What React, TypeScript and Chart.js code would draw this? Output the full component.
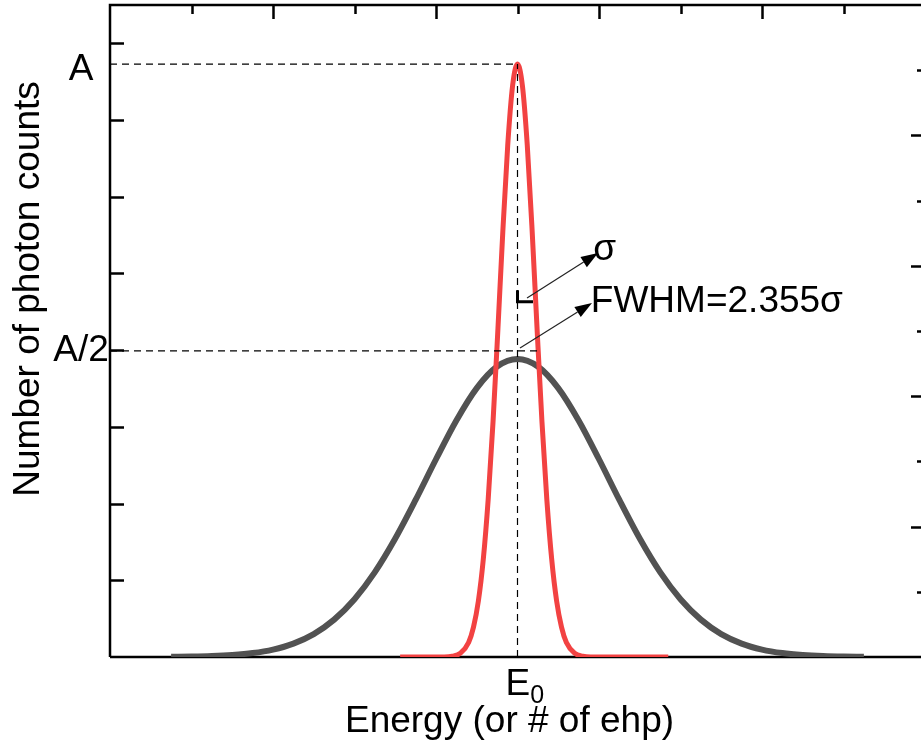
import React, { useEffect, useRef } from "react";
import { Chart, registerables } from "chart.js";

Chart.register(...registerables);

// ---- data (x in energy units, E0 = 5; y in count units) ----
const grayX = [0.75, 1.0, 1.25, 1.5, 1.75, 2.0, 2.25, 2.5, 2.75, 3.0, 3.25, 3.5, 3.75, 4.0, 4.25, 4.5, 4.75, 5.0, 5.25, 5.5, 5.75, 6.0, 6.25, 6.5, 6.75, 7.0, 7.25, 7.5, 7.75, 8.0, 8.25, 8.5, 8.75, 9.0, 9.25];
const grayY = [0.002, 0.005, 0.012, 0.026, 0.051, 0.097, 0.175, 0.299, 0.487, 0.753, 1.106, 1.544, 2.047, 2.578, 3.084, 3.506, 3.787, 3.885, 3.787, 3.506, 3.084, 2.578, 2.047, 1.544, 1.106, 0.753, 0.487, 0.299, 0.175, 0.097, 0.051, 0.026, 0.012, 0.005, 0.002];

const redX = [3.56, 4.1, 4.2, 4.3, 4.4, 4.46, 4.52, 4.58, 4.64, 4.7, 4.76, 4.82, 4.88, 4.94, 5.0, 5.06, 5.12, 5.18, 5.24, 5.3, 5.36, 5.42, 5.48, 5.54, 5.6, 5.7, 5.8, 5.9, 6.85];
const redY = [0, 0, 0.01, 0.05, 0.19, 0.39, 0.73, 1.27, 2.05, 3.07, 4.28, 5.55, 6.67, 7.45, 7.73, 7.45, 6.67, 5.55, 4.28, 3.07, 2.05, 1.27, 0.73, 0.39, 0.19, 0.05, 0.01, 0, 0];

const E0 = 5;
const peakA = 7.73;
const halfA = 3.99;
const halfLineEnd = 5.26;

const leftTicks = [1, 2, 3, 4, 5, 6, 7, 8];
const topMajorTicks = [2, 4, 6, 8];
const topMinorTicks = [1, 3, 5, 7, 9];
const rightMajorTicks = [1, 2, 3, 4];
const rightMinorTicks = [0.5, 1.5, 2.5, 3.5, 4.5];

const yTickLabels = ["A", "A/2"];
const yTickLabelValues = [7.66, 3.99];
const xTitle = "Energy (or # of ehp)";
const yTitle = "Number of photon counts";
const sigmaText = "σ";
const fwhmText = "FWHM=2.355σ";

// annotation anchors (data units)
const sigmaMarkY = 4.63;
const sigmaMarkX2 = 5.19;
const sigmaArrow = [5.117, 4.681, 5.988, 5.267];
const fwhmArrow = [5.031, 4.029, 5.914, 4.615];
const sigmaLabelPos = [5.93, 5.18];
const fwhmLabelPos = [5.90, 4.5];

const FONT = '"Liberation Sans", Arial, sans-serif';

const pts = (xs: number[], ys: number[]) => xs.map((x, i) => ({ x, y: ys[i] }));

const decorPlugin = {
  id: "decor",
  beforeDatasetsDraw(chart: any) {
    const { ctx, chartArea: a, scales } = chart;
    const xs = scales.x, ys = scales.y, y2 = scales.y2;
    ctx.save();
    ctx.strokeStyle = "#000";
    ctx.lineWidth = 2.5;
    ctx.lineCap = "butt";
    ctx.beginPath();
    ctx.moveTo(a.left, a.bottom);
    ctx.lineTo(a.left, a.top);
    ctx.lineTo(a.right, a.top);
    ctx.lineTo(a.right, a.bottom);
    ctx.lineTo(a.left, a.bottom);
    ctx.stroke();
    ctx.lineWidth = 2.5;
    ctx.beginPath();
    for (const v of leftTicks) {
      const y = Math.round(ys.getPixelForValue(v)) + 0.5;
      ctx.moveTo(a.left, y);
      ctx.lineTo(a.left + 14, y);
    }
    for (const v of topMajorTicks) {
      const x = Math.round(xs.getPixelForValue(v)) + 0.5;
      ctx.moveTo(x, a.top);
      ctx.lineTo(x, a.top + 14);
    }
    for (const v of topMinorTicks) {
      const x = Math.round(xs.getPixelForValue(v)) + 0.5;
      ctx.moveTo(x, a.top);
      ctx.lineTo(x, a.top + 9);
    }
    for (const v of rightMajorTicks) {
      const y = Math.round(y2.getPixelForValue(v)) + 0.5;
      ctx.moveTo(a.right, y);
      ctx.lineTo(a.right - 14, y);
    }
    for (const v of rightMinorTicks) {
      const y = Math.round(y2.getPixelForValue(v)) + 0.5;
      ctx.moveTo(a.right, y);
      ctx.lineTo(a.right - 8, y);
    }
    ctx.stroke();
    ctx.restore();
  },
  afterDatasetsDraw(chart: any) {
    const { ctx, chartArea: a, scales } = chart;
    const xs = scales.x, ys = scales.y;
    const px = (v: number) => xs.getPixelForValue(v);
    const py = (v: number) => ys.getPixelForValue(v);
    ctx.save();
    // sigma marker
    ctx.strokeStyle = "#000";
    ctx.lineWidth = 3;
    ctx.beginPath();
    ctx.moveTo(px(E0), py(sigmaMarkY + 0.15));
    ctx.lineTo(px(E0), py(sigmaMarkY));
    ctx.lineTo(px(sigmaMarkX2), py(sigmaMarkY));
    ctx.stroke();
    // arrows
    const arrow = (p: number[]) => {
      const x1 = px(p[0]), y1 = py(p[1]), x2 = px(p[2]), y2 = py(p[3]);
      const ang = Math.atan2(y2 - y1, x2 - x1);
      const L = 17, W = 6;
      const bx = x2 - L * Math.cos(ang), by = y2 - L * Math.sin(ang);
      ctx.strokeStyle = "#222";
      ctx.lineWidth = 1.2;
      ctx.beginPath();
      ctx.moveTo(x1, y1);
      ctx.lineTo(bx, by);
      ctx.stroke();
      ctx.fillStyle = "#000";
      ctx.beginPath();
      ctx.moveTo(x2, y2);
      ctx.lineTo(bx + W * Math.sin(ang), by - W * Math.cos(ang));
      ctx.lineTo(bx - W * Math.sin(ang), by + W * Math.cos(ang));
      ctx.closePath();
      ctx.fill();
    };
    arrow(sigmaArrow);
    arrow(fwhmArrow);

    ctx.fillStyle = "#000";
    ctx.font = `37px ${FONT}`;
    ctx.textBaseline = "alphabetic";
    ctx.textAlign = "left";
    ctx.fillText(sigmaText, px(sigmaLabelPos[0]), py(sigmaLabelPos[1]));
    ctx.fillText(fwhmText, px(fwhmLabelPos[0]), py(fwhmLabelPos[1]));

    // y tick labels
    ctx.textAlign = "center";
    ctx.textBaseline = "middle";
    yTickLabels.forEach((t, i) => {
      ctx.fillText(t, a.left - 29, py(yTickLabelValues[i]));
    });

    // E0 label
    ctx.textAlign = "left";
    ctx.textBaseline = "alphabetic";
    const ex = px(E0) - 12;
    ctx.fillText("E", ex, a.bottom + 38);
    const ew = ctx.measureText("E").width;
    ctx.font = `25px ${FONT}`;
    ctx.fillText("0", ex + ew, a.bottom + 46);

    // axis titles
    ctx.font = `37px ${FONT}`;
    ctx.textAlign = "center";
    ctx.fillText(xTitle, px(E0) - 8, a.bottom + 75);
    ctx.save();
    ctx.translate(39, a.top + 284);
    ctx.rotate(-Math.PI / 2);
    ctx.fillText(yTitle, 0, 0);
    ctx.restore();
    ctx.restore();
  },
};

export default function App() {
  const ref = useRef<HTMLCanvasElement | null>(null);
  useEffect(() => {
    if (!ref.current) return;
    const dash = [7, 5];
    const chart = new Chart(ref.current, {
      type: "line",
      data: {
        datasets: [
          { data: [{ x: E0, y: 0 }, { x: E0, y: peakA }], borderColor: "#000", borderWidth: 1.2, borderDash: dash, pointRadius: 0, tension: 0 },
          { data: [{ x: 0, y: peakA }, { x: E0, y: peakA }], borderColor: "#000", borderWidth: 1.2, borderDash: dash, pointRadius: 0, tension: 0 },
          { data: [{ x: 0, y: halfA }, { x: halfLineEnd, y: halfA }], borderColor: "#000", borderWidth: 1.2, borderDash: dash, pointRadius: 0, tension: 0 },
          { data: pts(redX, redY), borderColor: "rgb(242,66,66)", borderWidth: 5, pointRadius: 0, cubicInterpolationMode: "monotone" },
          { data: pts(grayX, grayY), borderColor: "rgb(82,82,82)", borderWidth: 6, pointRadius: 0, cubicInterpolationMode: "monotone" },
        ],
      },
      options: {
        animation: false,
        responsive: false,
        devicePixelRatio: 1,
        layout: { padding: { left: 110, top: 5, right: 15, bottom: 95 } },
        plugins: { legend: { display: false }, tooltip: { enabled: false }, title: { display: false } },
        events: [],
        scales: {
          x: { type: "linear", min: 0, max: 10, display: false },
          y: { type: "linear", min: 0, max: 8.5, display: false },
          y2: { type: "linear", min: 0, max: 5, display: false, position: "right" },
        },
      },
      plugins: [decorPlugin],
    } as any);
    return () => chart.destroy();
  }, []);
  return (
    <div style={{ position: "fixed", left: 0, top: 0, width: 921, height: 752, overflow: "hidden", background: "#fff" }}>
      <canvas ref={ref} width={940} height={752} style={{ display: "block", width: 940, height: 752 }} />
    </div>
  );
}
